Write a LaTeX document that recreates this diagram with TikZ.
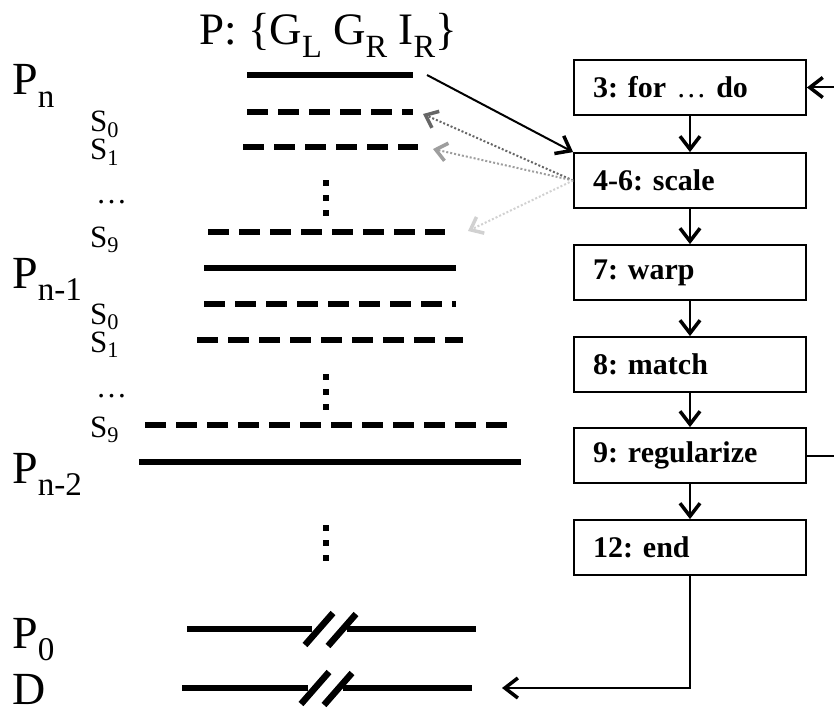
\documentclass[tikz,border=0pt]{standalone}
\usepackage{fontspec}
\setmainfont{Liberation Serif}
\usetikzlibrary{arrows.meta}
\frenchspacing
\newcommand\lowsub[1]{\raisebox{-0.28em}{\scalebox{0.72}{#1}}}
\newcommand\smallsub[1]{\raisebox{-0.18em}{\scalebox{0.72}{#1}}}
\definecolor{darkdot}{gray}{0.40}
\definecolor{middot}{gray}{0.62}
\definecolor{lightdot}{gray}{0.82}
\tikzset{
  solidbar/.style={line width=6.5pt, line cap=butt},
  dashbar/.style={line width=6.5pt, line cap=butt, dash pattern=on 21pt off 10pt},
  vdots/.style={line width=6pt, line cap=butt, dash pattern=on 6pt off 9pt},
  breakmark/.style={line width=6.5pt, line cap=butt},
  bigtext/.style={font=\fontsize{46}{50}\selectfont, anchor=base west, inner sep=0pt},
  smalltext/.style={font=\fontsize{31}{33}\selectfont, anchor=base west, inner sep=0pt},
  stepbox/.style={draw, line width=1.8pt, minimum width=232pt, minimum height=55pt,
    text width=194pt, inner xsep=19pt, align=left,
    font=\fontsize{30}{32}\selectfont\bfseries},
  tip/.style={-{Straight Barb[length=13pt,width=20pt,line width=3.5pt]}},
  arr/.style={tip, line width=2pt},
  conn/.style={line width=2pt},
  dotarr/.style={-{Straight Barb[length=11pt,width=18pt,line width=3.5pt]},
    line width=2pt, dash pattern=on 2pt off 2pt},
}
\begin{document}
\begin{tikzpicture}[x=1pt, y=-1pt]
\useasboundingbox (0,0) rectangle (834,714);

% title
\node[font=\fontsize{45}{48}\selectfont, anchor=base, inner sep=0pt] (title) at (328,45)
  {P: \{G\lowsub{L} G\lowsub{R} I\lowsub{R}\}};

% level labels
\node[bigtext] (lpn)  at (12,95)  {P\lowsub{n}};
\node[bigtext] (lpn1) at (12,288) {P\lowsub{n-1}};
\node[bigtext] (lpn2) at (12,483) {P\lowsub{n-2}};
\node[bigtext] (lp0)  at (12,648) {P\lowsub{0}};
\node[bigtext] (ld)   at (12,704) {D};

% scale labels
\node[smalltext] (sa0) at (90,132) {S\smallsub{0}};
\node[smalltext] (sa1) at (90,160) {S\smallsub{1}};
\node[smalltext] (sad) at (96,203) {…};
\node[smalltext] (sa9) at (90,247) {S\smallsub{9}};
\node[smalltext] (sb0) at (90,324) {S\smallsub{0}};
\node[smalltext] (sb1) at (90,352) {S\smallsub{1}};
\node[smalltext] (sbd) at (96,397) {…};
\node[smalltext] (sb9) at (90,437) {S\smallsub{9}};

% pyramid level n
\draw[solidbar] (247,75) -- (413,75);
\draw[dashbar]  (247,112) -- (413,112);
\draw[dashbar]  (243,147) -- (418,147);
\draw[vdots]    (326,180) -- (326,216);
\draw[dashbar]  (208,232) -- (445,232);
% level n-1
\draw[solidbar] (204,268) -- (456,268);
\draw[dashbar]  (204,304) -- (456,304);
\draw[dashbar]  (197,340) -- (463,340);
\draw[vdots]    (326,374) -- (326,410);
\draw[dashbar]  (145,425) -- (514,425);
% level n-2
\draw[solidbar] (139,462) -- (521,462);
\draw[vdots]    (326,525) -- (326,561);
% level 0 with break
\draw[solidbar] (187,629) -- (312,629);
\draw[solidbar] (347,629) -- (476,629);
\draw[breakmark] (305,645) -- (333,613);
\draw[breakmark] (328,646) -- (356,614);
% disparity with break
\draw[solidbar] (182,688) -- (308,688);
\draw[solidbar] (343,688) -- (472,688);
\draw[breakmark] (301,704) -- (329,672);
\draw[breakmark] (324,705) -- (352,673);

% algorithm steps
\node[stepbox] (for)   at (690,87.5)  {3: for {\mdseries …} do};
\node[stepbox] (scale) at (690,180.5) {4-6: scale};
\node[stepbox] (warp)  at (690,272.5) {7: warp};
\node[stepbox] (match) at (690,364.5) {8: match};
\node[stepbox] (reg)   at (690,455.5) {9: regularize};
\node[stepbox] (end)   at (690,547.5) {12: end};

\draw[arr] (for) -- (scale);
\draw[arr] (scale) -- (warp);
\draw[arr] (warp) -- (match);
\draw[arr] (match) -- (reg);
\draw[arr] (reg) -- (end);

% loop back (leaves the frame on the right)
\coordinate (loopin)  at (834,87.5);
\coordinate (loopout) at (834,455.5);
\draw[arr] (loopin) -- (for.east);
\draw[conn] (reg.east) -- (loopout);

% result goes to the disparity
\coordinate (dtip) at (502,688);
\draw[arr] (end.south) |- (dtip);

% coarsest level feeds the scale step
\coordinate (pnend) at (427,75);
\draw[arr] (pnend) -- (scale.north west);

% scale step produces the scaled images
\coordinate (ts0) at (423,114);
\coordinate (ts1) at (433,149);
\coordinate (ts9) at (468,231);
\draw[dotarr, draw=darkdot]  (scale.west) -- (ts0);
\draw[dotarr, draw=middot]   (scale.west) -- (ts1);
\draw[dotarr, draw=lightdot] (scale.west) -- (ts9);
\end{tikzpicture}
\end{document}
